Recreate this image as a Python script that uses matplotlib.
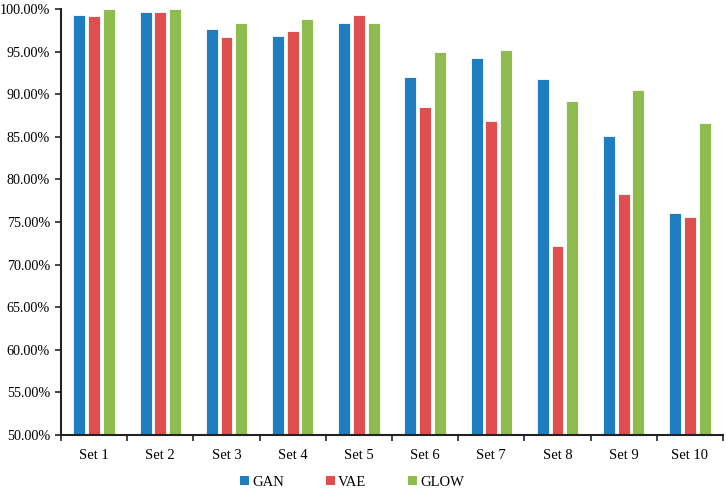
import matplotlib
matplotlib.use("Agg")
import matplotlib.pyplot as plt
import numpy as np
from matplotlib.ticker import FuncFormatter, FixedLocator

categories = ["Set 1", "Set 2", "Set 3", "Set 4", "Set 5", "Set 6", "Set 7", "Set 8", "Set 9", "Set 10"]
gan = [99.3, 99.7, 97.7, 96.8, 98.4, 92.05, 94.2, 91.8, 85.15, 76.0]
vae = [99.2, 99.7, 96.7, 97.4, 99.3, 88.5, 86.8, 72.2, 78.25, 75.55]
glow = [100.0, 100.0, 98.4, 98.8, 98.3, 95.0, 95.2, 89.15, 90.55, 86.67]
series_names = ["GAN", "VAE", "GLOW"]
colors = ["#1F7EC1", "#E04F4F", "#8FBC4F"]

plt.rcParams['font.family'] = ['Liberation Serif', 'DejaVu Serif']

fig = plt.figure(figsize=(7.26, 4.99), dpi=100)
ax = fig.add_axes([61/726, 64/499, 662/726, 426/499])

x = np.arange(len(categories))
w = 0.18
pitch = 0.222
for i, (vals, name, c) in enumerate(zip([gan, vae, glow], series_names, colors)):
    ax.bar(x + (i - 1) * pitch, vals, width=w, color=c, edgecolor="#ffffff", linewidth=0.6, label=name, zorder=2)

ax.set_xlim(-0.5, len(categories) - 0.5)
ax.set_ylim(50, 100)
ax.set_yticks(np.arange(50, 100.1, 5))
ax.yaxis.set_major_formatter(FuncFormatter(lambda v, p: f"{v:.2f}%"))
ax.set_xticks(x)
ax.set_xticklabels(categories)
ax.xaxis.set_minor_locator(FixedLocator(np.arange(-0.5, len(categories), 1.0)))
ax.tick_params(axis='x', which='major', length=0, pad=10, labelsize=10.5)
ax.tick_params(axis='x', which='minor', length=4, width=1.2, color="#222222")
ax.tick_params(axis='y', length=4, width=1.2, color="#222222", labelsize=10.2, pad=4)

for s in ["top", "right"]:
    ax.spines[s].set_visible(False)
for s in ["left", "bottom"]:
    ax.spines[s].set_linewidth(1.5)
    ax.spines[s].set_color("#222222")

leg = fig.legend(loc="center", bbox_to_anchor=(0.485, 17/499), ncol=3, frameon=False,
                 fontsize=10.5, handlelength=0.6, handleheight=0.6, handletextpad=0.2,
                 columnspacing=2.9)
for h in leg.legend_handles:
    h.set_edgecolor("none")

fig.savefig("out.png", dpi=100)
